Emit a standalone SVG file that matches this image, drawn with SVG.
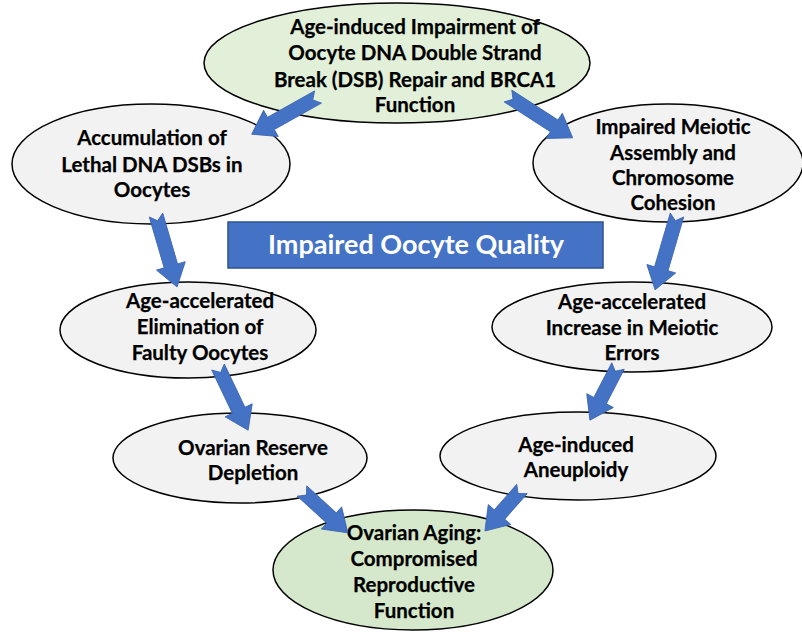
<svg xmlns="http://www.w3.org/2000/svg" width="802" height="632" viewBox="0 0 802 632">
  <defs>
    <style>
      .node ellipse { stroke: #000; stroke-width: 1.5; }
      .green ellipse { fill: #e2efd9; }
      .green2 ellipse { fill: #d5e8cc; }
      .grey ellipse { fill: #f2f2f2; }
      .node text { font-family: Lato, "Liberation Sans", sans-serif; font-weight: 700; font-size: 20.5px; fill: #000; text-anchor: middle; stroke: #000; stroke-width: 0.25; }
      .arrow { fill: #4472c4; stroke: #3a64b0; stroke-width: 0.8; }
      .banner rect { fill: #4472c4; stroke: #2f528f; stroke-width: 1.5; }
      .banner text { font-family: Lato, "Liberation Sans", sans-serif; font-weight: 700; font-size: 27px; fill: #fff; text-anchor: middle; }
    </style>
  </defs>

  <rect width="802" height="632" fill="#fff"/>

  <g id="n-top" class="node green">
    <ellipse cx="397" cy="63" rx="193" ry="60"/>
    <text x="415" y="34">Age-induced Impairment of</text>
    <text x="415" y="60">Oocyte DNA Double Strand</text>
    <text x="415" y="87">Break (DSB) Repair and BRCA1</text>
    <text x="415" y="112">Function</text>
  </g>

  <g id="n-accum" class="node grey">
    <ellipse cx="151" cy="164" rx="139" ry="60"/>
    <text x="152" y="145">Accumulation of</text>
    <text x="152" y="172">Lethal DNA DSBs in</text>
    <text x="152" y="197">Oocytes</text>
  </g>

  <g id="n-meiotic" class="node grey">
    <ellipse cx="668" cy="163" rx="135" ry="59"/>
    <text x="673" y="134">Impaired Meiotic</text>
    <text x="673" y="160">Assembly and</text>
    <text x="673" y="185">Chromosome</text>
    <text x="673" y="210">Cohesion</text>
  </g>

  <g id="banner" class="banner">
    <rect x="228" y="222" width="375" height="46"/>
    <text x="416" y="254">Impaired Oocyte Quality</text>
  </g>

  <g id="n-elim" class="node grey">
    <ellipse cx="188" cy="330" rx="128" ry="48"/>
    <text x="200" y="308">Age-accelerated</text>
    <text x="200" y="334">Elimination of</text>
    <text x="200" y="360">Faulty Oocytes</text>
  </g>

  <g id="n-errors" class="node grey">
    <ellipse cx="632" cy="327" rx="140" ry="45"/>
    <text x="632" y="309">Age-accelerated</text>
    <text x="632" y="335">Increase in Meiotic</text>
    <text x="632" y="360">Errors</text>
  </g>

  <g id="n-reserve" class="node grey">
    <ellipse cx="240" cy="458" rx="127" ry="45"/>
    <text x="253" y="455">Ovarian Reserve</text>
    <text x="253" y="480">Depletion</text>
  </g>

  <g id="n-aneuploidy" class="node grey">
    <ellipse cx="578" cy="456" rx="138" ry="44"/>
    <text x="576" y="452">Age-induced</text>
    <text x="576" y="477">Aneuploidy</text>
  </g>

  <g id="n-aging" class="node green2">
    <ellipse cx="413" cy="570" rx="140" ry="60"/>
    <text x="414" y="540">Ovarian Aging:</text>
    <text x="414" y="566">Compromised</text>
    <text x="414" y="592">Reproductive</text>
    <text x="414" y="618">Function</text>
  </g>

  <!-- notched block arrows: drawn along +x from the tail, then placed -->
  <g id="connectors">
    <path class="arrow" transform="translate(318,97) rotate(150.7)" d="M0,-7 L54,-7 L54,-15 L76,0 L54,15 L54,7 L0,7 L6,0 Z"/>
    <path class="arrow" transform="translate(508,96) rotate(32.9)" d="M0,-7 L55,-7 L55,-15 L77,0 L55,15 L55,7 L0,7 L6,0 Z"/>
    <path class="arrow" transform="translate(156,215) rotate(73.7)" d="M0,-7 L53,-7 L53,-15 L75,0 L53,15 L53,7 L0,7 L6,0 Z"/>
    <path class="arrow" transform="translate(677,215) rotate(106.3)" d="M0,-7 L56,-7 L56,-15 L78,0 L56,15 L56,7 L0,7 L6,0 Z"/>
    <path class="arrow" transform="translate(218,367) rotate(64.5)" d="M0,-7 L48,-7 L48,-15 L70,0 L48,15 L48,7 L0,7 L6,0 Z"/>
    <path class="arrow" transform="translate(618,366) rotate(117.4)" d="M0,-7 L39,-7 L39,-15 L61,0 L39,15 L39,7 L0,7 L6,0 Z"/>
    <path class="arrow" transform="translate(302,491) rotate(42.4)" d="M0,-7 L40,-7 L40,-15 L62,0 L40,15 L40,7 L0,7 L6,0 Z"/>
    <path class="arrow" transform="translate(522,489) rotate(131.4)" d="M0,-7 L34,-7 L34,-15 L56,0 L34,15 L34,7 L0,7 L6,0 Z"/>
  </g>
</svg>
